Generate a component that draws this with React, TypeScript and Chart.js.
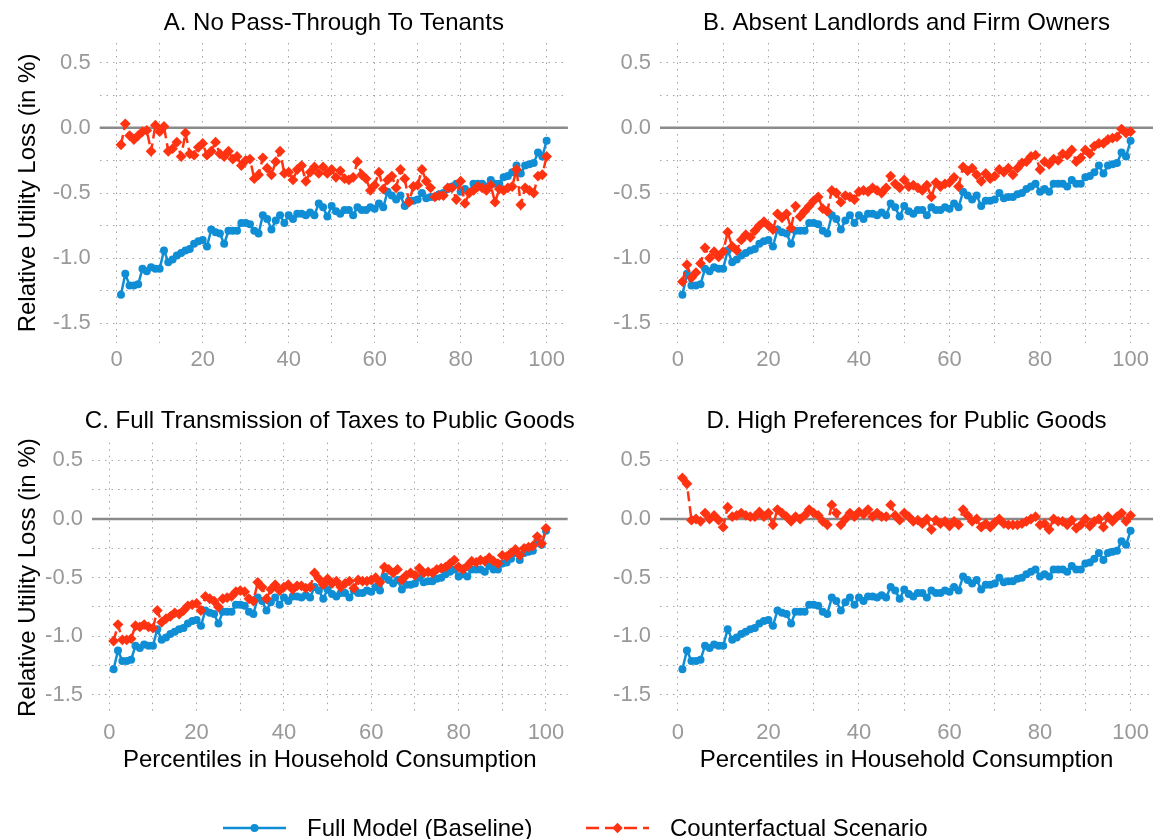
import React, { useEffect, useRef } from "react";
import { Chart, registerables } from "chart.js";

Chart.register(...registerables);

// ---------------- DATA ----------------
const percentiles = [
  1, 2, 3, 4, 5, 6, 7, 8, 9, 10, 11, 12, 13, 14, 15, 16, 17, 18, 19, 20,
  21, 22, 23, 24, 25, 26, 27, 28, 29, 30, 31, 32, 33, 34, 35, 36, 37, 38, 39, 40,
  41, 42, 43, 44, 45, 46, 47, 48, 49, 50, 51, 52, 53, 54, 55, 56, 57, 58, 59, 60,
  61, 62, 63, 64, 65, 66, 67, 68, 69, 70, 71, 72, 73, 74, 75, 76, 77, 78, 79, 80,
  81, 82, 83, 84, 85, 86, 87, 88, 89, 90, 91, 92, 93, 94, 95, 96, 97, 98, 99, 100,
];

const baseline = [
  -1.28, -1.12, -1.21, -1.21, -1.2, -1.08, -1.1, -1.07, -1.08, -1.08,
  -0.94, -1.03, -1.01, -0.98, -0.96, -0.94, -0.93, -0.89, -0.87, -0.86,
  -0.91, -0.78, -0.8, -0.81, -0.89, -0.79, -0.79, -0.79, -0.73, -0.73,
  -0.74, -0.79, -0.81, -0.67, -0.7, -0.78, -0.71, -0.67, -0.73, -0.67,
  -0.7, -0.66, -0.66, -0.67, -0.65, -0.67, -0.58, -0.61, -0.68, -0.6,
  -0.64, -0.66, -0.63, -0.63, -0.67, -0.61, -0.63, -0.63, -0.61, -0.62,
  -0.58, -0.61, -0.49, -0.52, -0.55, -0.52, -0.6, -0.56, -0.56, -0.55,
  -0.5, -0.54, -0.53, -0.53, -0.51, -0.5, -0.47, -0.45, -0.43, -0.49,
  -0.47, -0.49, -0.43, -0.43, -0.43, -0.45, -0.4, -0.43, -0.43, -0.38,
  -0.37, -0.34, -0.29, -0.35, -0.29, -0.28, -0.27, -0.19, -0.22, -0.1,
];

const counterfactualA = [
  -0.13, 0.03, -0.06, -0.09, -0.06, -0.03, -0.02, -0.18, 0.02, -0.03,
  0.01, -0.18, -0.16, -0.11, -0.22, -0.04, -0.2, -0.21, -0.15, -0.12,
  -0.21, -0.18, -0.11, -0.2, -0.22, -0.18, -0.24, -0.22, -0.29, -0.25,
  -0.24, -0.39, -0.36, -0.23, -0.31, -0.36, -0.26, -0.18, -0.35, -0.34,
  -0.4, -0.32, -0.29, -0.41, -0.34, -0.3, -0.35, -0.3, -0.35, -0.32,
  -0.38, -0.33, -0.39, -0.4, -0.38, -0.26, -0.36, -0.39, -0.48, -0.44,
  -0.34, -0.47, -0.4, -0.37, -0.46, -0.32, -0.39, -0.57, -0.45, -0.44,
  -0.32, -0.41, -0.46, -0.53, -0.52, -0.52, -0.46, -0.46, -0.55, -0.41,
  -0.58, -0.5, -0.48, -0.45, -0.46, -0.48, -0.44, -0.57, -0.47, -0.48,
  -0.46, -0.45, -0.32, -0.59, -0.46, -0.48, -0.5, -0.37, -0.36, -0.22,
];

const counterfactualB = [
  -1.18, -1.05, -1.15, -1.11, -1.04, -0.92, -1.0, -0.95, -0.99, -0.95,
  -0.8, -0.91, -0.94, -0.86, -0.82, -0.84, -0.79, -0.75, -0.72, -0.75,
  -0.78, -0.66, -0.69, -0.66, -0.77, -0.6, -0.68, -0.64, -0.6, -0.56,
  -0.53, -0.62, -0.64, -0.48, -0.5, -0.57, -0.52, -0.53, -0.55, -0.49,
  -0.48, -0.49, -0.46, -0.48, -0.5, -0.46, -0.37, -0.43, -0.46, -0.4,
  -0.45, -0.44, -0.46, -0.48, -0.44, -0.53, -0.42, -0.45, -0.43, -0.42,
  -0.38, -0.45, -0.3, -0.33, -0.31, -0.36, -0.41, -0.35, -0.39, -0.37,
  -0.32, -0.34, -0.31, -0.36, -0.31, -0.27, -0.26, -0.22, -0.21, -0.32,
  -0.26, -0.28, -0.24, -0.25, -0.2, -0.21, -0.17, -0.26, -0.23, -0.17,
  -0.2, -0.14, -0.12, -0.12, -0.09, -0.08, -0.07, -0.01, -0.04, -0.03,
];

const counterfactualC = [
  -1.04, -0.9, -1.03, -1.03, -1.02, -0.91, -0.92, -0.9, -0.92, -0.93,
  -0.78, -0.88, -0.85, -0.83, -0.8, -0.81, -0.78, -0.74, -0.73, -0.72,
  -0.78, -0.66, -0.68, -0.7, -0.75, -0.68, -0.67, -0.66, -0.62, -0.61,
  -0.62, -0.68, -0.7, -0.54, -0.58, -0.68, -0.6, -0.56, -0.61, -0.58,
  -0.56, -0.6, -0.57, -0.57, -0.59, -0.58, -0.46, -0.51, -0.56, -0.51,
  -0.55, -0.53, -0.58, -0.55, -0.53, -0.59, -0.52, -0.53, -0.53, -0.52,
  -0.5, -0.54, -0.41, -0.43, -0.46, -0.43, -0.52, -0.48, -0.46, -0.48,
  -0.42, -0.46, -0.45, -0.46, -0.43, -0.42, -0.41, -0.38, -0.35, -0.41,
  -0.43, -0.4, -0.36, -0.37, -0.35, -0.36, -0.33, -0.36, -0.38, -0.31,
  -0.32, -0.29, -0.26, -0.31, -0.25, -0.24, -0.23, -0.15, -0.21, -0.08,
];

const counterfactualD = [
  0.35, 0.3, -0.01, 0.0, -0.02, 0.05, 0.0, 0.03, -0.01, -0.07,
  0.1, 0.02, 0.03, 0.05, 0.03, 0.02, 0.02, 0.06, 0.02, 0.05,
  -0.05, 0.08, 0.05, 0.02, -0.02, 0.02, 0.0, 0.03, 0.08, 0.05,
  0.03, -0.02, -0.05, 0.12, 0.05, -0.05, 0.0, 0.05, 0.02, 0.06,
  0.04, 0.08, 0.02, 0.05, 0.02, 0.02, 0.12, 0.03, -0.01, 0.05,
  0.02, -0.02, -0.01, -0.04, 0.0, -0.09, -0.01, -0.04, -0.02, -0.06,
  -0.02, -0.05, 0.08, 0.03, -0.02, 0.0, -0.07, -0.04, -0.07, -0.03,
  0.0, -0.04, -0.05, -0.05, -0.05, -0.04, -0.02, 0.0, 0.02, -0.05,
  -0.04, -0.09, 0.0, -0.02, -0.02, -0.05, -0.01, -0.08, -0.05, 0.0,
  -0.06, -0.02, 0.0, -0.07, 0.02, -0.02, 0.02, 0.05, -0.02, 0.03,
];

const panelTitles = [
  "A. No Pass-Through To Tenants",
  "B. Absent Landlords and Firm Owners",
  "C. Full Transmission of Taxes to Public Goods",
  "D. High Preferences for Public Goods",
];

const seriesLabels = ["Full Model (Baseline)", "Counterfactual Scenario"];
const xAxisTitle = "Percentiles in Household Consumption";
const yAxisTitle = "Relative Utility Loss (in %)";

const xTickValues = [0, 10, 20, 30, 40, 50, 60, 70, 80, 90, 100];
const yTickValues = [-1.5, -1.25, -1, -0.75, -0.5, -0.25, 0, 0.25, 0.5];
const xLimits = [-3.95, 104.95];
const yLimits = [-1.65, 0.65];
const referenceLineValue = 0;

// ---------------- STYLE ----------------
const BLUE = "#0f8dd5";
const RED = "#ff3311";
const GRID = "#a3a3a3";
const TICK = "#999999";
const FONT = "'Liberation Sans', Arial, Helvetica, sans-serif";
const W = 1156;
const H = 839;
const TICK_SIZE = 22;

Chart.defaults.font.family = FONT;

const panelLayout = [
  { plotL: 99.7, plotR: 567, plotT: 43, plotB: 343, titleY: 23, yTitle: true, xTitle: false, xPad: 4 },
  { plotL: 660, plotR: 1153, plotT: 43, plotB: 343, titleY: 23, yTitle: false, xTitle: false, xPad: 4 },
  { plotL: 92, plotR: 567, plotT: 442.7, plotB: 712.6, titleY: 421, yTitle: true, xTitle: true, xPad: 7 },
  { plotL: 660, plotR: 1153, plotT: 442.7, plotB: 712.6, titleY: 421, yTitle: false, xTitle: true, xPad: 7 },
];
const panelSeries = [counterfactualA, counterfactualB, counterfactualC, counterfactualD];

const zeroLinePlugin = {
  id: "zeroLine",
  beforeDatasetsDraw(chart: any) {
    const { ctx, chartArea, scales } = chart;
    const y = scales.y.getPixelForValue(referenceLineValue);
    ctx.save();
    ctx.strokeStyle = "#8a8a8a";
    ctx.lineWidth = 2.5;
    ctx.beginPath();
    ctx.moveTo(chartArea.left, y);
    ctx.lineTo(chartArea.right, y);
    ctx.stroke();
    ctx.restore();
  },
};

function Panel({ index }: { index: number }) {
  const ref = useRef<HTMLCanvasElement | null>(null);
  const lay = panelLayout[index];
  const leftW = lay.yTitle ? lay.plotL - 13.6 : 60;
  const padL = lay.plotL - leftW;
  const padR = 4;
  const canvasW = Math.ceil(lay.plotR + leftW + padR);
  const xH = lay.xTitle ? 61.8 : 40;
  const padB = H - lay.plotB - xH;
  const padT = lay.titleY - 14.4;
  const titleBottom = lay.plotT - padT - 28.8;

  useEffect(() => {
    if (!ref.current) return;
    const cf = panelSeries[index];
    const chart = new Chart(ref.current, {
      type: "line",
      data: {
        datasets: [
          {
            label: seriesLabels[1],
            data: percentiles.map((p, i) => ({ x: p, y: cf[i] })),
            borderColor: RED,
            backgroundColor: RED,
            borderWidth: 2.5,
            borderDash: [10, 5],
            pointStyle: "rectRot",
            pointRadius: 5.4,
            pointBorderWidth: 0,
            pointBackgroundColor: RED,
            tension: 0,
            order: 1,
          },
          {
            label: seriesLabels[0],
            data: percentiles.map((p, i) => ({ x: p, y: baseline[i] })),
            borderColor: BLUE,
            backgroundColor: BLUE,
            borderWidth: 2.5,
            pointStyle: "circle",
            pointRadius: 4,
            pointBorderWidth: 0,
            pointBackgroundColor: BLUE,
            tension: 0,
            order: 2,
          },
        ],
      },
      options: {
        responsive: false,
        animation: false,
        devicePixelRatio: 1,
        events: [],
        layout: { padding: { left: padL, right: padR, top: padT, bottom: padB } },
        plugins: {
          legend: { display: false },
          tooltip: { enabled: false },
          title: {
            display: true,
            text: panelTitles[index],
            color: "#000",
            font: { size: 24, weight: "normal", family: FONT, lineHeight: 1.2 },
            padding: { top: 0, bottom: titleBottom },
          },
        },
        scales: {
          x: {
            type: "linear",
            position: "bottom",
            min: xLimits[0],
            max: xLimits[1],
            afterBuildTicks: (s: any) => {
              s.ticks = xTickValues.map((v) => ({ value: v }));
            },
            afterFit: (s: any) => {
              s.height = xH;
            },
            grid: { color: GRID, lineWidth: 1, drawTicks: false },
            border: { display: false, dash: [1.5, 5] },
            ticks: {
              autoSkip: false,
              maxRotation: 0,
              minRotation: 0,
              padding: lay.xPad,
              color: TICK,
              font: { size: TICK_SIZE, family: FONT },
              callback: (v: any) => (Number(v) % 20 === 0 ? String(v) : ""),
            },
            title: {
              display: lay.xTitle,
              text: xAxisTitle,
              color: "#000",
              font: { size: 24, family: FONT, lineHeight: 1.2 },
              padding: { top: 0, bottom: 0 },
            },
          },
          y: {
            type: "linear",
            position: "left",
            min: yLimits[0],
            max: yLimits[1],
            afterBuildTicks: (s: any) => {
              s.ticks = yTickValues.map((v) => ({ value: v }));
            },
            afterFit: (s: any) => {
              s.width = leftW;
            },
            grid: { color: GRID, lineWidth: 1, drawTicks: false },
            border: { display: false, dash: [1.5, 5] },
            ticks: {
              autoSkip: false,
              padding: 9,
              color: TICK,
              font: { size: TICK_SIZE, family: FONT },
              callback: (v: any) => {
                const n = Number(v);
                return Math.abs(n * 2 - Math.round(n * 2)) < 1e-9 ? n.toFixed(1) : "";
              },
            },
            title: {
              display: lay.yTitle,
              text: yAxisTitle,
              color: "#000",
              font: { size: 24, family: FONT, lineHeight: 1.2 },
              padding: { top: 0, bottom: 0 },
            },
          },
          yR: {
            type: "linear",
            position: "right",
            display: true,
            grid: { display: false, drawTicks: false, drawOnChartArea: false },
            border: { display: false },
            ticks: { display: false },
            afterFit: (s: any) => {
              s.width = leftW;
            },
          },
        },
      },
      plugins: [zeroLinePlugin],
    } as any);
    return () => chart.destroy();
  }, [index]);

  return (
    <canvas
      ref={ref}
      width={canvasW}
      height={H}
      style={{ position: "absolute", left: 0, top: 0, width: canvasW, height: H, display: "block" }}
    />
  );
}

function Legend() {
  const textStyle: React.CSSProperties = {
    position: "absolute",
    top: 814,
    fontFamily: FONT,
    fontSize: 24,
    lineHeight: "28px",
    color: "#000",
    whiteSpace: "nowrap",
  };
  return (
    <>
      <svg style={{ position: "absolute", left: 223, top: 818 }} width={64} height={20}>
        <line x1={0} y1={10} x2={63} y2={10} stroke={BLUE} strokeWidth={2.5} />
        <circle cx={31.5} cy={10} r={4} fill={BLUE} />
      </svg>
      <div style={{ ...textStyle, left: 307 }}>{seriesLabels[0]}</div>
      <svg style={{ position: "absolute", left: 586, top: 818 }} width={64} height={20}>
        <line x1={0} y1={10} x2={63} y2={10} stroke={RED} strokeWidth={2.5} strokeDasharray="13 6" />
        <polygon points="31.5,4.8 36.7,10 31.5,15.2 26.3,10" fill={RED} />
      </svg>
      <div style={{ ...textStyle, left: 670 }}>{seriesLabels[1]}</div>
    </>
  );
}

export default function App() {
  return (
    <div
      style={{
        position: "fixed",
        left: 0,
        top: 0,
        width: W,
        height: H,
        overflow: "hidden",
        background: "#fff",
      }}
    >
      {[0, 1, 2, 3].map((i) => (
        <Panel key={i} index={i} />
      ))}
      <Legend />
    </div>
  );
}
